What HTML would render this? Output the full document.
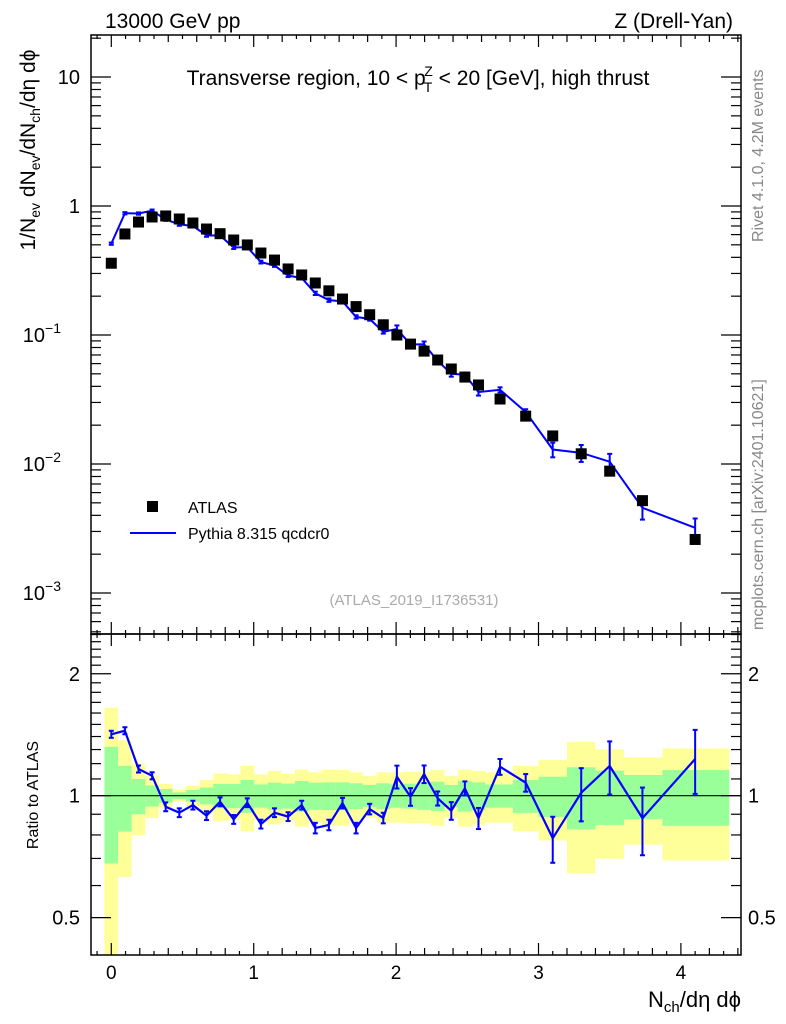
<!DOCTYPE html>
<html><head><meta charset="utf-8"><style>
html,body{margin:0;padding:0;background:#fff;}
svg{display:block;font-family:"Liberation Sans",Arial,sans-serif;}
</style></head><body>
<svg id="chart" width="786" height="1024" viewBox="0 0 786 1024" xmlns="http://www.w3.org/2000/svg">
<g id="bands"></g>
<g id="marks"></g>
<g id="axes"></g>
<text x="105" y="28" font-size="21">13000 GeV pp</text>
<text x="733" y="28" font-size="21" text-anchor="end">Z (Drell-Yan)</text>
<text x="418" y="85" font-size="21" text-anchor="middle">Transverse region, 10 &lt; p<tspan font-size="14" dy="7" dx="-2">T</tspan><tspan font-size="14" dy="-16" dx="-8">Z</tspan><tspan dy="9"> &lt; 20 [GeV], high thrust</tspan></text>
<text x="414" y="605" font-size="15" fill="#aaa" text-anchor="middle">(ATLAS_2019_I1736531)</text>
<text transform="translate(763,242) rotate(-90)" font-size="16" fill="#888">Rivet 4.1.0,  4.2M events</text>
<text transform="translate(763,630) rotate(-90)" font-size="16" fill="#888">mcplots.cern.ch [arXiv:2401.10621]</text>
<text transform="translate(35,150) rotate(-90)" font-size="21" text-anchor="middle">1/N<tspan font-size="14" dy="5">ev</tspan><tspan dy="-5"> dN</tspan><tspan font-size="14" dy="5">ev</tspan><tspan dy="-5">/dN</tspan><tspan font-size="14" dy="5">ch</tspan><tspan dy="-5">/dη dϕ</tspan></text>
<text transform="translate(38,795) rotate(-90)" font-size="16" text-anchor="middle">Ratio to ATLAS</text>
<text x="741" y="1007" font-size="22" text-anchor="end">N<tspan font-size="15" dy="5">ch</tspan><tspan dy="-5">/dη dϕ</tspan></text>
<g>
<rect x="147" y="501" width="11" height="11" fill="#000"/>
<text x="188" y="513" font-size="16">ATLAS</text>
<line x1="130" y1="533" x2="176" y2="533" stroke="#0000ff" stroke-width="2"/>
<text x="188" y="539" font-size="16">Pythia 8.315 qcdcr0</text>
</g>
</svg>
<script>
// ---- data ----
const binCenters = [0,0.0955,0.191,0.2865,0.382,0.4775,0.573,0.6685,0.764,0.8595,0.955,1.0505,1.146,1.2415,1.337,1.4325,1.528,1.6235,1.719,1.8145,1.91,2.0055,2.101,2.1965,2.292,2.3875,2.483,2.5785,2.73,2.91,3.1,3.3,3.5,3.73,4.1];
const binEdges = [-0.048,0.048,0.143,0.239,0.334,0.430,0.525,0.621,0.716,0.812,0.907,1.003,1.098,1.194,1.289,1.385,1.480,1.576,1.671,1.767,1.862,1.958,2.053,2.149,2.244,2.340,2.435,2.531,2.626,2.82,3.0,3.2,3.4,3.6,3.87,4.34];
const atlasValues = [0.36,0.607,0.751,0.822,0.837,0.793,0.738,0.663,0.610,0.545,0.499,0.432,0.381,0.325,0.292,0.253,0.220,0.190,0.166,0.1436,0.120,0.100,0.085,0.075,0.064,0.0545,0.0472,0.041,0.0319,0.0235,0.0165,0.012,0.0088,0.0052,0.0026];
const pythiaRatio = [1.418,1.447,1.164,1.12,0.939,0.908,0.948,0.893,0.966,0.874,0.961,0.851,0.908,0.888,0.948,0.832,0.847,0.959,0.832,0.927,0.881,1.114,0.994,1.131,0.985,0.918,1.043,0.88,1.179,1.077,0.785,1.017,1.184,0.88,1.232];
const pythiaErr = [0.02,0.02,0.02,0.02,0.025,0.025,0.025,0.025,0.025,0.025,0.025,0.025,0.025,0.025,0.025,0.03,0.03,0.03,0.03,0.03,0.03,0.065,0.05,0.05,0.04,0.05,0.04,0.06,0.045,0.05,0.13,0.15,0.15,0.19,0.18];
const greenBand = [0.32,0.185,0.1,0.06,0.039,0.019,0.033,0.048,0.069,0.069,0.093,0.066,0.077,0.071,0.087,0.077,0.079,0.079,0.073,0.063,0.073,0.066,0.071,0.077,0.083,0.063,0.087,0.079,0.066,0.093,0.114,0.175,0.153,0.125,0.157];
const yellowBand = [0.65,0.37,0.2,0.12,0.069,0.033,0.057,0.093,0.135,0.129,0.184,0.129,0.151,0.133,0.161,0.142,0.157,0.157,0.142,0.118,0.142,0.142,0.146,0.146,0.157,0.118,0.161,0.151,0.142,0.184,0.225,0.357,0.301,0.243,0.308];
const xTickLabels = ["0","1","2","3","4"];
const mainTickLabels = ["10","1","10","10","10"];
const ratioTickLabels = ["0.5","1","2"];

// ---- geometry ----
const L=91,R=741,T=35,MID=634,B=955;
const NS="http://www.w3.org/2000/svg";
function X(v){return 111.3+142.4*v;}
function Y(v){return 206-129*Math.log10(v);}
function RY(r){return 795.7-405*Math.log10(r);}
function el(parent,tag,attrs){const e=document.createElementNS(NS,tag);for(const k in attrs)e.setAttribute(k,attrs[k]);parent.appendChild(e);return e;}
const bands=document.getElementById('bands'),marks=document.getElementById('marks'),axes=document.getElementById('axes');

const defs=el(document.getElementById('chart'),'defs',{});
const cp=el(defs,'clipPath',{id:'rclip'});el(cp,'rect',{x:L,y:MID,width:R-L,height:B-MID});
const cp2=el(defs,'clipPath',{id:'mclip'});el(cp2,'rect',{x:L,y:T,width:R-L,height:MID-T});
bands.setAttribute('clip-path','url(#rclip)');

for(let i=0;i<binCenters.length;i++){
  const x0=X(binEdges[i]),x1=X(binEdges[i+1]);
  const yb=el(bands,'rect',{x:x0,y:RY(1+yellowBand[i]),width:x1-x0,height:RY(Math.max(0.05,1-yellowBand[i]))-RY(1+yellowBand[i]),fill:'#ffff99'});
  
  
}
for(let i=0;i<binCenters.length;i++){
  const x0=X(binEdges[i]),x1=X(binEdges[i+1]);
  const gb=el(bands,'rect',{x:x0,y:RY(1+greenBand[i]),width:x1-x0,height:RY(1-greenBand[i])-RY(1+greenBand[i]),fill:'#99ff99'});
  
  
}
const one=el(bands,'line',{x1:L,x2:R,y1:RY(1),y2:RY(1),stroke:'#000','stroke-width':1.2});



const mainG=el(marks,'g',{'clip-path':'url(#mclip)'});
let pts=[];
for(let i=0;i<binCenters.length;i++){
  const v=atlasValues[i]*pythiaRatio[i];
  pts.push(X(binCenters[i])+','+Y(v));
  const e=pythiaErr[i]*v;
  const eb=el(mainG,'g',{stroke:'#0000ff','stroke-width':2});
  
  
  el(eb,'line',{x1:X(binCenters[i]),x2:X(binCenters[i]),y1:Y(v+e),y2:Y(v-e)});
  el(eb,'line',{x1:X(binCenters[i])-2.5,x2:X(binCenters[i])+2.5,y1:Y(v+e),y2:Y(v+e)});
  el(eb,'line',{x1:X(binCenters[i])-2.5,x2:X(binCenters[i])+2.5,y1:Y(v-e),y2:Y(v-e)});
}
const ml=el(mainG,'polyline',{points:pts.join(' '),fill:'none',stroke:'#0000ff','stroke-width':2});


for(let i=0;i<binCenters.length;i++){
  const m=el(mainG,'rect',{x:X(binCenters[i])-5.5,y:Y(atlasValues[i])-5.5,width:11,height:11,fill:'#000'});
  
  
}
const ratioG=el(marks,'g',{'clip-path':'url(#rclip)'});
pts=[];
for(let i=0;i<binCenters.length;i++){
  const r=pythiaRatio[i],e=pythiaErr[i]*r,x=X(binCenters[i]);
  pts.push(x+','+RY(r));
  const eb=el(ratioG,'g',{stroke:'#0000ff','stroke-width':2});
  
  
  el(eb,'line',{x1:x,x2:x,y1:RY(r+e),y2:RY(r-e)});
  el(eb,'line',{x1:x-2.5,x2:x+2.5,y1:RY(r+e),y2:RY(r+e)});
  el(eb,'line',{x1:x-2.5,x2:x+2.5,y1:RY(r-e),y2:RY(r-e)});
}
const rl=el(ratioG,'polyline',{points:pts.join(' '),fill:'none',stroke:'#0000ff','stroke-width':2.2});



for(const [y0,y1,n] of [[T,MID,'main-frame'],[MID,B,'ratio-frame']]){
  const f=el(axes,'rect',{x:L,y:y0,width:R-L,height:y1-y0,fill:'none',stroke:'#000','stroke-width':1.5});
  
  
}
for(let k=-1;k<=44;k++){
  const v=k/10;const x=X(v);if(x<L||x>R)continue;
  const len=(k%10===0)?12:(k%2===0?7:4);
  for(const [y,d] of [[T,1],[MID,-1],[MID,1],[B,-1]]){
    el(axes,'line',{x1:x,x2:x,y1:y,y2:y+d*len,stroke:'#000','stroke-width':1.2});
  }
}
for(let i=0;i<xTickLabels.length;i++){
  const t=el(axes,'text',{x:X(i),y:979,'font-size':19,'text-anchor':'middle'});
  t.textContent=xTickLabels[i];
  
  
}
for(let d=-4;d<=1;d++){
  for(let m=1;m<=9;m++){
    const v=m*Math.pow(10,d);const y=Y(v);if(y<T||y>MID)continue;
    const len=m===1?20:10;
    el(axes,'line',{x1:L,x2:L+len,y1:y,y2:y,stroke:'#000','stroke-width':1.2});
    el(axes,'line',{x1:R,x2:R-len,y1:y,y2:y,stroke:'#000','stroke-width':1.2});
  }
}
const mainExp=[1,0,-1,-2,-3];
for(let i=0;i<mainTickLabels.length;i++){
  const t=el(axes,'text',{x:80,y:Y(Math.pow(10,mainExp[i]))+7,'font-size':20,'text-anchor':'end'});
  
  
  if(mainExp[i]<0){
    t.setAttribute('x',61);
    t.textContent=mainTickLabels[i];
    const s=el(t,'tspan',{'font-size':14,dy:-9});s.textContent='\u2212'+(-mainExp[i]);
  } else t.textContent=mainTickLabels[i];
}
const rmin=Math.pow(10,(795.7-B)/405),rmax=Math.pow(10,(795.7-MID)/405);
for(let k=2;k<=25;k++){
  const r=k/10;if(r<rmin||r>rmax)continue;const y=RY(r);
  const len=(k===5||k===10||k===20)?20:10;
  el(axes,'line',{x1:L,x2:L+len,y1:y,y2:y,stroke:'#000','stroke-width':1.2});
  el(axes,'line',{x1:R,x2:R-len,y1:y,y2:y,stroke:'#000','stroke-width':1.2});
}
const ratioVals=[0.5,1,2];
for(let i=0;i<ratioVals.length;i++){
  for(const [x,a] of [[80,'end'],[748,'start']]){
    const t=el(axes,'text',{x:x,y:RY(ratioVals[i])+7,'font-size':20,'text-anchor':a});
    t.textContent=ratioTickLabels[i];
    
    
  }
}
</script>
</body></html>
